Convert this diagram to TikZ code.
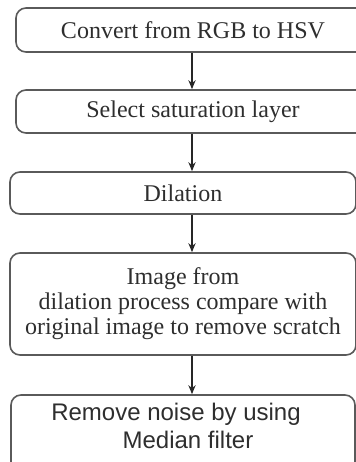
\documentclass[tikz,border=0pt]{standalone}
\usepackage{fontspec}
\setmainfont{Liberation Serif}
\newfontfamily\boxsans{Liberation Sans}
\usetikzlibrary{arrows.meta, positioning}
\definecolor{boxline}{HTML}{5A5A5A}
\definecolor{boxtext}{HTML}{2E2E2E}

\begin{document}
\begin{tikzpicture}[x=0.5pt, y=-0.5pt,
    flowbox/.style={draw=boxline, line width=0.8pt, rounded corners=5pt, rectangle,
        align=center, text=boxtext, inner sep=0pt,
        font=\fontsize{12}{12.5}\selectfont},
    flowarrow/.style={draw=black!85, line width=0.6pt, -{Stealth[length=4.5pt, width=3.6pt]}}]
                    % Frame (the picture is cut on the right and at the bottom)
                    \useasboundingbox (0,0) rectangle (356,462);
                    \clip (0,0) rectangle (356,462);

                    % Boxes
                    \node[flowbox, minimum width=177pt, minimum height=22pt] (rgb) at (193,30) {Convert from RGB to HSV};
                    \node[flowbox, minimum width=177pt, minimum height=21.5pt] (sat) at (193,111.5) {Select saturation layer};
                    \node[flowbox, minimum width=173pt, minimum height=21pt] (dil) at (183,193) {Dilation};
                    \node[flowbox, minimum width=173pt, minimum height=51pt] (cmp) at (183,304)
                        {Image from\\dilation process compare with\\original image to remove scratch};
                    \node[flowbox, minimum width=172pt, minimum height=42pt] (med) at (183,437) {};
                    \node[align=center, text=boxtext, font=\boxsans\fontsize{12}{14}\selectfont] (medtxt) at (176,426)
                        {Remove noise by using\\\hspace*{12pt}Median filter};

                    % Arrows
                    \draw[flowarrow] (rgb.south -| 192,0) -- (sat.north -| 192,0);
                    \draw[flowarrow] (sat.south -| 192,0) -- (dil.north -| 192,0);
                    \draw[flowarrow] (dil.south -| 192,0) -- (cmp.north -| 192,0);
                    \draw[flowarrow] (cmp.south -| 192,0) -- (med.north -| 192,0);
                \end{tikzpicture}
\end{document}
